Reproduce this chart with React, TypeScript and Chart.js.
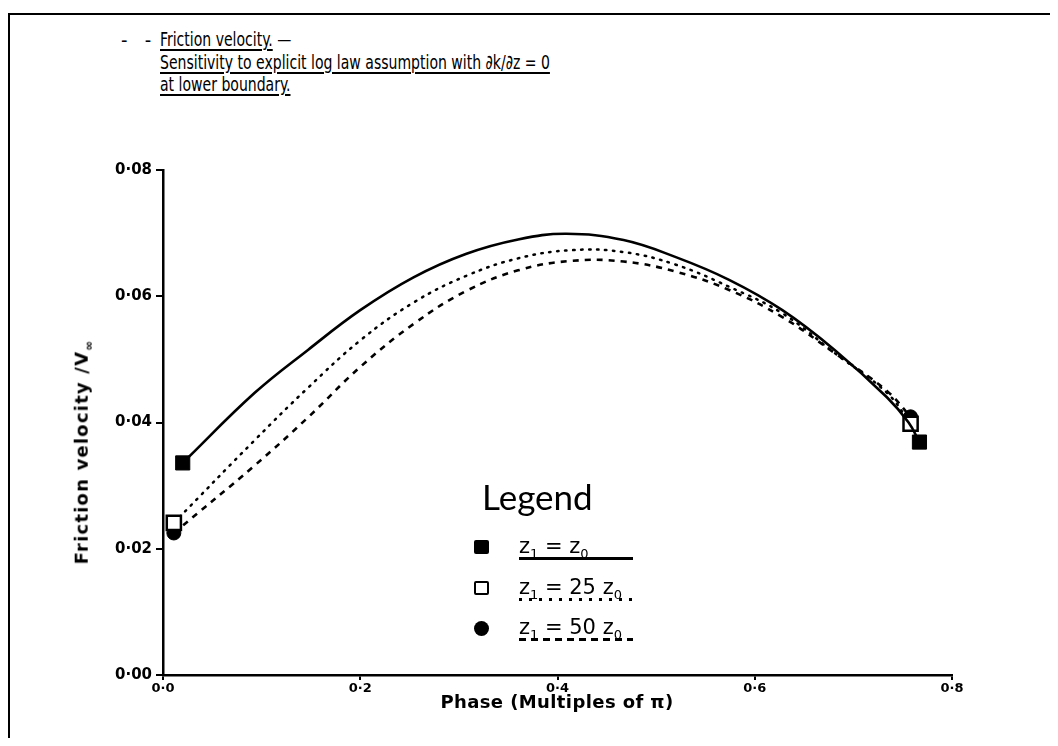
import React, { useEffect, useRef } from "react";
import { Chart, registerables } from "chart.js";

Chart.register(...registerables);

// Axis ticks
const xTicks = [0, 0.2, 0.4, 0.6, 0.8];
const yTicks = [0, 0.02, 0.04, 0.06, 0.08];

// Series labels
const seriesLabels = ["z₁ = z₀", "z₁ = 25 z₀", "z₁ = 50 z₀"];

// z1 = z0 (solid)
const phaseA = [0.02, 0.093, 0.147, 0.2, 0.254, 0.307, 0.36, 0.409, 0.467, 0.52, 0.574, 0.628, 0.681, 0.734, 0.756, 0.767];
const velA = [0.0336, 0.0447, 0.0515, 0.0578, 0.063, 0.0667, 0.069, 0.0699, 0.0689, 0.0662, 0.0626, 0.0578, 0.0515, 0.044, 0.04, 0.0369];

// z1 = 25 z0 (dotted)
const phaseB = [0.011, 0.093, 0.147, 0.2, 0.254, 0.307, 0.36, 0.414, 0.467, 0.52, 0.574, 0.628, 0.681, 0.734, 0.758];
const velB = [0.0241, 0.0372, 0.0455, 0.053, 0.059, 0.0632, 0.066, 0.0673, 0.067, 0.065, 0.0615, 0.0573, 0.051, 0.0447, 0.0398];

// z1 = 50 z0 (dashed)
const phaseC = [0.011, 0.093, 0.147, 0.2, 0.254, 0.307, 0.36, 0.414, 0.467, 0.52, 0.574, 0.628, 0.681, 0.734, 0.758];
const velC = [0.0225, 0.0332, 0.0408, 0.0488, 0.0556, 0.0608, 0.0641, 0.0656, 0.0655, 0.0639, 0.061, 0.0567, 0.051, 0.045, 0.0409];

const toPts = (xs: number[], ys: number[]) => xs.map((x, i) => ({ x, y: ys[i] }));
const endsOnly = (n: number, r: number) =>
  Array.from({ length: n }, (_, i) => (i === 0 || i === n - 1 ? r : 0));

const fmt = (v: number, d: number) => Number(v).toFixed(d).replace(".", "·");

const xTickFont = { family: "'DejaVu Sans', sans-serif", weight: "bold" as const, size: 13 };
const yTickFont = { family: "'DejaVu Sans', sans-serif", weight: "bold" as const, size: 15 };

const narrow = "'Liberation Sans Narrow', 'DejaVu Sans Condensed', 'Liberation Sans', sans-serif";

export default function App() {
  const canvasRef = useRef<HTMLCanvasElement | null>(null);

  useEffect(() => {
    document.body.style.overflow = "hidden";
    const canvas = canvasRef.current;
    if (!canvas) return;
    const chart = new Chart(canvas, {
      type: "line",
      data: {
        datasets: [
          {
            label: seriesLabels[0],
            data: toPts(phaseA, velA),
            borderColor: "#000",
            borderWidth: 2.6,
            tension: 0.4,
            pointStyle: "rect",
            pointRadius: endsOnly(phaseA.length, 10),
            pointHoverRadius: endsOnly(phaseA.length, 10),
            pointBackgroundColor: "#000",
            pointBorderColor: "#000",
            pointBorderWidth: 1,
            fill: false,
          },
          {
            label: seriesLabels[1],
            data: toPts(phaseB, velB),
            borderColor: "#000",
            borderWidth: 2.5,
            borderDash: [1.5, 6.5],
            borderCapStyle: "round",
            tension: 0.4,
            pointStyle: "rect",
            pointRadius: endsOnly(phaseB.length, 10),
            pointHoverRadius: endsOnly(phaseB.length, 10),
            pointBackgroundColor: "#fff",
            pointBorderColor: "#000",
            pointBorderWidth: 2.5,
            fill: false,
          },
          {
            label: seriesLabels[2],
            data: toPts(phaseC, velC),
            borderColor: "#000",
            borderWidth: 2.6,
            borderDash: [6, 6],
            tension: 0.4,
            pointStyle: "circle",
            pointRadius: endsOnly(phaseC.length, 7),
            pointHoverRadius: endsOnly(phaseC.length, 7),
            pointBackgroundColor: "#000",
            pointBorderColor: "#000",
            pointBorderWidth: 1,
            fill: false,
          },
        ],
      },
      options: {
        animation: false,
        responsive: false,
        events: [],
        layout: { padding: { top: 162, left: 0, right: 98, bottom: 0 } },
        plugins: {
          legend: { display: false },
          tooltip: { enabled: false },
        },
        scales: {
          x: {
            type: "linear",
            min: 0,
            max: 0.8,
            afterBuildTicks: (s: any) => {
              s.ticks = xTicks.map((v) => ({ value: v }));
            },
            afterFit: (s: any) => {
              s.height = 63;
            },
            ticks: {
              callback: (v: any) => fmt(v, 1),
              font: xTickFont,
              color: "#000",
              padding: 1,
              maxRotation: 0,
              autoSkip: false,
            },
            grid: {
              drawOnChartArea: false,
              drawTicks: true,
              tickLength: 5,
              color: "#000",
              lineWidth: 2,
            },
            border: { display: true, color: "#000", width: 2.5 },
          },
          y: {
            type: "linear",
            min: 0,
            max: 0.08,
            afterBuildTicks: (s: any) => {
              s.ticks = yTicks.map((v) => ({ value: v }));
            },
            afterFit: (s: any) => {
              s.width = 155;
            },
            ticks: {
              callback: (v: any) => fmt(v, 2),
              font: yTickFont,
              color: "#000",
              padding: 4,
              autoSkip: false,
            },
            grid: {
              drawOnChartArea: false,
              drawTicks: true,
              tickLength: 7,
              color: "#000",
              lineWidth: 2,
            },
            border: { display: true, color: "#000", width: 2.5 },
          },
        },
      },
    } as any);
    return () => chart.destroy();
  }, []);

  const titleLine = (top: number, content: React.ReactNode) => (
    <div
      style={{
        position: "absolute",
        left: 152,
        top,
        fontFamily: narrow,
        fontSize: 20,
        lineHeight: "23px",
        whiteSpace: "nowrap",
        color: "#000",
        transformOrigin: "left top",
        transform: "scaleX(0.78)",
      }}
    >
      {content}
    </div>
  );

  const ul: React.CSSProperties = {
    textDecoration: "underline",
    textDecorationThickness: "2px",
    textUnderlineOffset: "3px",
  };

  const legendRow = (top: number, marker: React.ReactNode, a: string, b: string, line: string) => (
    <>
      {marker}
      <div
        style={{
          position: "absolute",
          left: 511,
          top,
          fontFamily: "'DejaVu Sans', sans-serif",
          fontSize: 21,
          lineHeight: "21px",
          whiteSpace: "nowrap",
          color: "#000",
        }}
      >
        {a}
        <sub style={{ fontSize: 13 }}>1</sub>
        {" = " + b}
        <sub style={{ fontSize: 13 }}>0</sub>
      </div>
      <div
        style={{
          position: "absolute",
          left: 511,
          top: top + 21,
          width: 114,
          height: 2.5,
          background: line,
        }}
      />
    </>
  );

  const axisTitleStyle: React.CSSProperties = {
    position: "absolute",
    fontFamily: "'DejaVu Sans', sans-serif",
    fontWeight: "bold",
    fontSize: 18,
    lineHeight: "20px",
    whiteSpace: "nowrap",
    color: "#000",
  };

  return (
    <div style={{ position: "relative", width: 1042, height: 730, overflow: "hidden" }}>
      <div
        style={{
          position: "absolute",
          left: 0,
          top: 5,
          width: 1100,
          height: 800,
          borderTop: "2px solid #000",
          borderLeft: "2px solid #000",
        }}
      />
      <div style={{ position: "absolute", left: 113, top: 21, fontFamily: narrow, fontSize: 20, lineHeight: "23px" }}>
        -&nbsp;&nbsp;&nbsp;-
      </div>
      {titleLine(20, (
        <>
          <span style={ul}>Friction velocity.</span> —
        </>
      ))}
      {titleLine(42.5, <span style={ul}>Sensitivity to explicit log law assumption with ∂k/∂z = 0</span>)}
      {titleLine(65, <span style={ul}>at lower boundary.</span>)}
      <canvas ref={canvasRef} width={1042} height={730} style={{ position: "absolute", left: 0, top: 0 }} />
      <div
        style={{
          ...axisTitleStyle,
          left: 77,
          top: 444,
          letterSpacing: "1.2px",
          transform: "translate(-50%, -50%) rotate(-90deg)",
        }}
      >
        Friction velocity /V<sub style={{ fontSize: 12 }}>∞</sub>
      </div>
      <div
        style={{
          ...axisTitleStyle,
          left: 549,
          top: 694,
          letterSpacing: "0.4px",
          transform: "translate(-50%, -50%)",
        }}
      >
        Phase (Multiples of π)
      </div>
      <div
        style={{
          position: "absolute",
          left: 474,
          top: 471,
          fontFamily: "Lato, sans-serif",
          fontSize: 35,
          lineHeight: "35px",
          color: "#000",
        }}
      >
        Legend
      </div>
      {legendRow(
        528,
        <div style={{ position: "absolute", left: 466, top: 532, width: 15, height: 14, background: "#000", borderRadius: 2 }} />,
        "z",
        "z",
        "#000"
      )}
      {legendRow(
        569,
        <div
          style={{
            position: "absolute",
            left: 466,
            top: 573,
            width: 15,
            height: 14,
            boxSizing: "border-box",
            border: "2.5px solid #000",
            background: "#fff",
            borderRadius: 2,
          }}
        />,
        "z",
        "25 z",
        "repeating-linear-gradient(to right, #000 0 3px, transparent 3px 10px)"
      )}
      {legendRow(
        609,
        <div style={{ position: "absolute", left: 466, top: 613, width: 15, height: 15, background: "#000", borderRadius: "50%" }} />,
        "z",
        "50 z",
        "repeating-linear-gradient(to right, #000 0 7px, transparent 7px 12px)"
      )}
    </div>
  );
}
